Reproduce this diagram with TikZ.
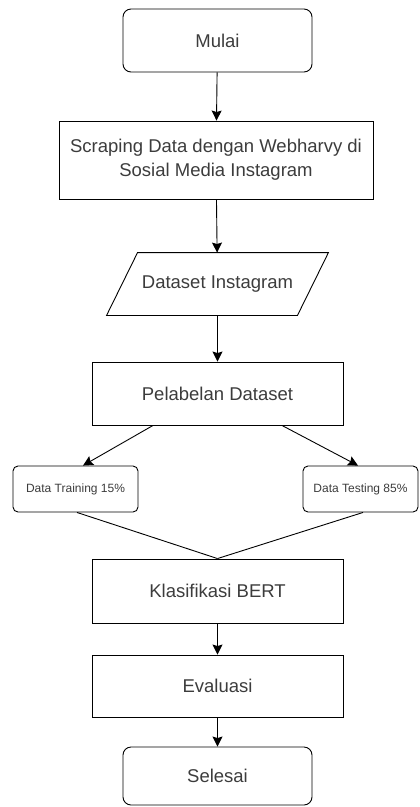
\documentclass[tikz,border=0pt]{standalone}
\usepackage{fontspec}
\setmainfont{Liberation Sans}
\usetikzlibrary{arrows.meta}

\definecolor{txtgray}{RGB}{60,60,60}

\tikzset{
    box/.style={draw, line width=0.9pt, text=txtgray, inner sep=0pt, align=center,
        font=\fontsize{18.5}{24}\selectfont},
    terminal/.style={box, rounded corners=8pt},
    smallbox/.style={draw, line width=0.9pt, rounded corners=5pt, text=txtgray, inner sep=0pt,
        font=\fontsize{12}{14}\selectfont},
    flow/.style={line width=0.9pt, -{Stealth[length=10pt,width=10pt,inset=1.5pt]}},
    mergeline/.style={line width=0.9pt},
}

\begin{document}
\begin{tikzpicture}[x=1pt, y=-1pt]
            \useasboundingbox (0,0) rectangle (420,807);
            \node[terminal, minimum width=189, minimum height=63] (mulai) at (217.5,40.5) {Mulai};
            \node[box, minimum width=314, minimum height=78] (scrap) at (216,160) {Scraping Data dengan Webharvy di\\Sosial Media Instagram};
            \node[box, draw=none, minimum width=190, minimum height=62] (dataset) at (217.5,284) {Dataset Instagram};
            \draw[line width=0.9pt] ([xshift=15.5]dataset.north west) -- ([xshift=15.5]dataset.north east)
                -- ([xshift=-15.5]dataset.south east) -- ([xshift=-15.5]dataset.south west) -- cycle;
            \node[box, minimum width=251, minimum height=63] (label) at (217.5,393.5) {Pelabelan Dataset};
            \node[smallbox, minimum width=125, minimum height=46] (train) at (75.5,489) {Data Training 15\%};
            \node[smallbox, minimum width=115, minimum height=46] (test) at (360.5,489) {Data Testing 85\%};
            \node[box, minimum width=251, minimum height=64] (bert) at (217.5,591) {Klasifikasi BERT};
            \node[box, minimum width=251, minimum height=62] (eval) at (217.5,686) {Evaluasi};
            \node[terminal, minimum width=189, minimum height=58] (selesai) at (217.5,776) {Selesai};

            \draw[flow] (mulai) -- (scrap);
            \draw[flow] (scrap) -- (dataset);
            \draw[flow] (dataset) -- (label);
            \draw[flow] ([xshift=-64.5]label.south) -- ([xshift=7.5]train.north);
            \draw[flow] ([xshift=64.5]label.south) -- ([xshift=-2.5]test.north);
            \draw[mergeline] ([xshift=1.5]train.south) -- (bert.north);
            \draw[mergeline] ([xshift=2.5]test.south) -- (bert.north);
            \draw[flow] (bert) -- (eval);
            \draw[flow] (eval) -- (selesai);
        \end{tikzpicture}
\end{document}
